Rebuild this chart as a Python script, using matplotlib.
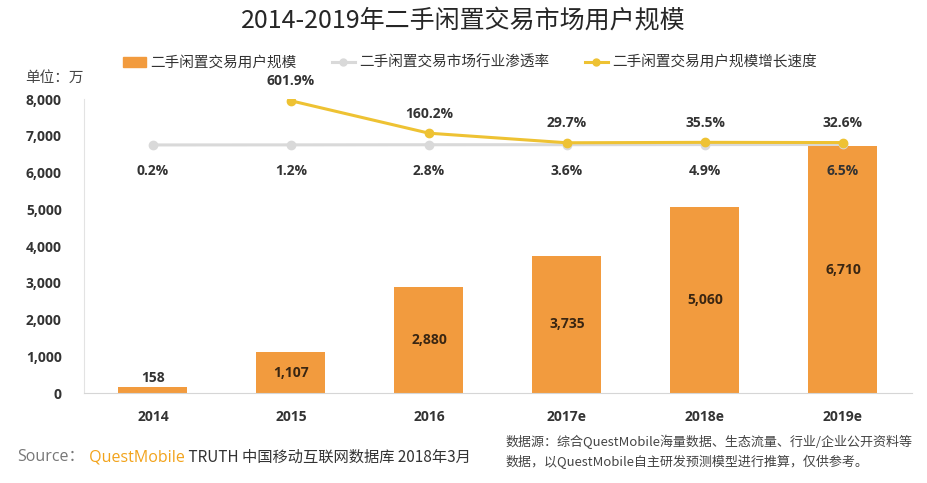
import numpy as np
import matplotlib.pyplot as plt
from matplotlib.lines import Line2D
from matplotlib.patches import Patch

plt.rcParams['font.family'] = ['Open Sans', 'Noto Sans CJK SC', 'DejaVu Sans']

# Data
years = ['2014', '2015', '2016', '2017e', '2018e', '2019e']
users = [158, 1107, 2880, 3735, 5060, 6710]          # 万
penetration = [0.2, 1.2, 2.8, 3.6, 4.9, 6.5]          # %
growth = [np.nan, 601.9, 160.2, 29.7, 35.5, 32.6]     # %

bar_c = '#F29B3E'
gray_c = '#D9D9D9'
yel_c = '#EEC233'
txt_c = '#333333'
cjk = ['Noto Sans CJK SC', 'DejaVu Sans']

fig = plt.figure(figsize=(9.27, 4.83), dpi=100)
ax = fig.add_axes([0.0906, 0.1863, 0.8932, 0.6087])
x = np.arange(len(years))

ax.bar(x, users, width=0.5, color=bar_c, zorder=2)
ax.set_xlim(-0.5, len(years) - 0.5)
ax.set_ylim(0, 8000)
ax.set_yticks(range(0, 8001, 1000))
ax.set_yticklabels([f'{v:,}' for v in range(0, 8001, 1000)],
                   fontweight='bold', fontsize=10, color=txt_c)
ax.set_xticks(x)
ax.set_xticklabels(years, fontweight='bold', fontsize=10, color=txt_c)
ax.tick_params(length=0, pad=12)
ax.tick_params(axis='y', pad=16)
for s in ['top', 'right']:
    ax.spines[s].set_visible(False)
ax.spines['left'].set_color('#E3E3E3')
ax.spines['bottom'].set_color('#D6D6D6')

for xi, v in zip(x, users):
    if v < 500:
        ax.text(xi, v + 60, f'{v:,}', ha='center', va='bottom',
                fontsize=10, fontweight='bold', color=txt_c)
    else:
        ax.text(xi, v / 2, f'{v:,}', ha='center', va='center',
                fontsize=10, fontweight='bold', color='#3A2612')

# Secondary axis for the two percentage lines
ax2 = ax.twinx()
ax2.set_ylim(-3380, 626)
ax2.axis('off')
ax2.plot(x, penetration, color=gray_c, lw=2.2, marker='o', ms=6, zorder=3)
ax2.plot(x, growth, color=yel_c, lw=2.2, marker='o', ms=6, zorder=4)

for xi, p in zip(x, penetration):
    ax2.annotate(f'{p:.1f}%', (xi, p), xytext=(0, -19), textcoords='offset points',
                 ha='center', va='center', fontsize=10, fontweight='bold', color=txt_c)
for xi, g in zip(x, growth):
    if np.isnan(g):
        continue
    ax2.annotate(f'{g:.1f}%', (xi, g), xytext=(0, 14), textcoords='offset points',
                 ha='center', va='center', fontsize=10, fontweight='bold', color=txt_c)

# Title, unit and legend
fig.text(0.5, 0.955, '2014-2019年二手闲置交易市场用户规模', ha='center', va='center',
         fontsize=18, color='#262626', family=cjk)
fig.text(0.027, 0.838, '单位：万', ha='left', va='center', fontsize=10.5,
         color='#444444', family=cjk)

handles = [Patch(color=bar_c),
           Line2D([0], [0], color=gray_c, lw=2.2, marker='o', ms=5),
           Line2D([0], [0], color=yel_c, lw=2.2, marker='o', ms=5)]
labels = ['二手闲置交易用户规模', '二手闲置交易市场行业渗透率', '二手闲置交易用户规模增长速度']
fig.legend(handles, labels, loc='center', bbox_to_anchor=(0.507, 0.87), ncol=3,
           frameon=False, prop={'family': cjk, 'size': 10.5}, handlelength=1.6,
           handletextpad=0.3, columnspacing=2.4, labelcolor='#333333')

# Source line
t1 = fig.text(0.019, 0.053, 'Source：', ha='left', va='center', fontsize=11.5,
              color='#777777', family=['Open Sans', 'Noto Sans CJK SC'])
t2 = fig.add_artist(plt.Annotation(' QuestMobile', xy=(1, 0.5), xycoords=t1,
                                   va='center', ha='left', fontsize=11.5,
                                   color='#F2A31B', family=['Open Sans']))
fig.add_artist(plt.Annotation(' TRUTH 中国移动互联网数据库 2018年3月', xy=(1, 0.5),
                              xycoords=t2, va='center', ha='left', fontsize=11,
                              color='#333333', family=cjk))

fig.text(0.545, 0.085, '数据源：综合QuestMobile海量数据、生态流量、行业/企业公开资料等',
         ha='left', va='center', fontsize=9.4, color='#444444', family=cjk)
fig.text(0.545, 0.043, '数据，以QuestMobile自主研发预测模型进行推算，仅供参考。',
         ha='left', va='center', fontsize=9.4, color='#444444', family=cjk)

fig.savefig('out.png', dpi=100)
